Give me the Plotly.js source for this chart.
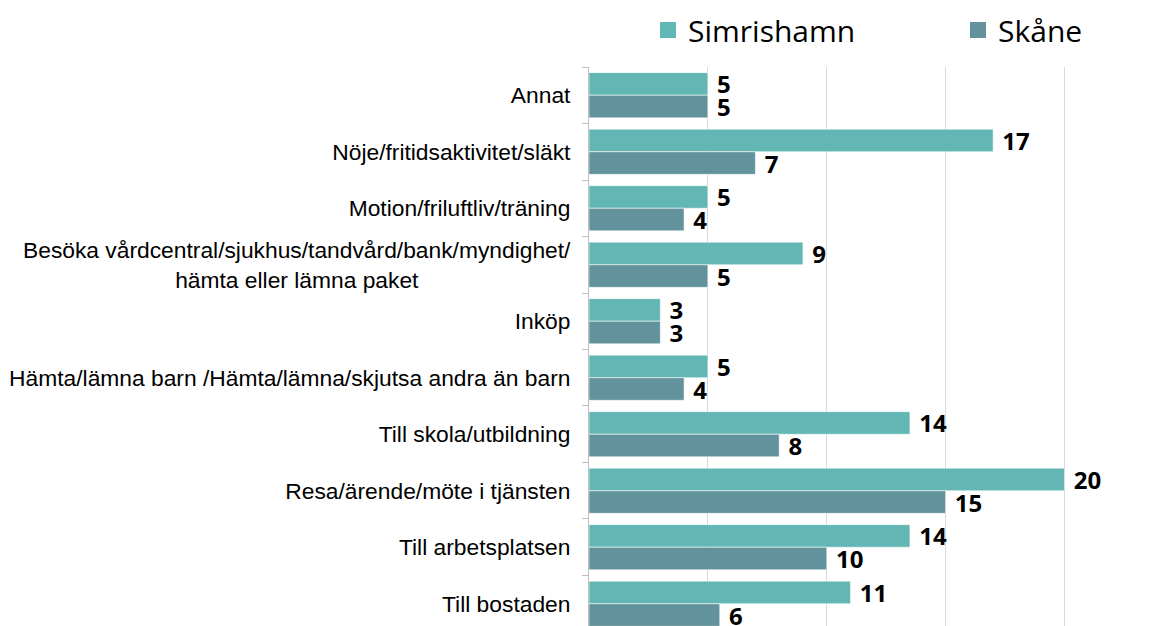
<!DOCTYPE html>
<html>
<head>
<meta charset="utf-8">
<script src="https://cdn.plot.ly/plotly-3.0.1.min.js"></script>
<style>
  html, body { margin: 0; padding: 0; background: #ffffff; overflow: hidden; }
  #chart { width: 1169px; height: 626px; }
</style>
</head>
<body>
<div id="chart"></div>
<script>
// ---- Data (top to bottom) ----
const categories = [
  "Annat",
  "Nöje/fritidsaktivitet/släkt",
  "Motion/friluftliv/träning",
  "Besöka vårdcentral/sjukhus/tandvård/bank/myndighet/<br>hämta eller lämna paket" + "\u00A0".repeat(24),
  "Inköp",
  "Hämta/lämna barn /Hämta/lämna/skjutsa andra än barn",
  "Till skola/utbildning",
  "Resa/ärende/möte i tjänsten",
  "Till arbetsplatsen",
  "Till bostaden"
];
const simrishamn = [5, 17, 5, 9, 3, 5, 13.5, 20, 13.5, 11];
const skane      = [5, 7, 4, 5, 3, 4, 8, 15, 10, 5.5];
const seriesNames = ["Simrishamn", "Skåne"];

// ---- Styles ----
const colSim = "#62B7B4";
const colSka = "#62939D";
const labelFont = { family: "Open Sans, Noto Sans, sans-serif", size: 24, color: "#000000", weight: "bold" };

function barTrace(name, vals, color) {
  return {
    type: "bar",
    orientation: "h",
    name: name,
    y: categories,
    x: vals,
    text: vals.map(v => "\u00A0" + Math.round(v)),
    textposition: "outside",
    textfont: labelFont,
    constraintext: "none",
    cliponaxis: false,
    marker: { color: color, line: { color: "rgba(255,255,255,0.55)", width: 1 } },
    showlegend: false,
    legendgroup: name,
    hoverinfo: "x+name"
  };
}
function legendTrace(name, color, legendwidth) {
  const t = {
    type: "scatter",
    mode: "markers",
    name: name,
    x: [null],
    y: [null],
    marker: { symbol: "square", size: 20, color: color },
    legendgroup: name,
    showlegend: true,
    hoverinfo: "skip"
  };
  if (legendwidth) t.legendwidth = legendwidth;
  return t;
}

const data = [
  barTrace(seriesNames[0], simrishamn, colSim),
  barTrace(seriesNames[1], skane, colSka),
  legendTrace(seriesNames[0], colSim, 265),
  legendTrace(seriesNames[1], colSka)
];

const layout = {
  width: 1169,
  height: 626,
  autosize: false,
  margin: { l: 589, r: 57, t: 67, b: 0, pad: 0, autoexpand: false },
  paper_bgcolor: "#ffffff",
  plot_bgcolor: "#ffffff",
  barmode: "group",
  bargap: 0.2,
  bargroupgap: 0,
  xaxis: {
    range: [0, 22],
    autorange: false,
    tick0: 0,
    dtick: 5,
    showgrid: true,
    gridcolor: "#D9D9D9",
    gridwidth: 1,
    zeroline: false,
    showline: false,
    showticklabels: false,
    ticks: ""
  },
  yaxis: {
    type: "category",
    categoryorder: "array",
    categoryarray: categories,
    range: [9.394, -0.5],
    autorange: false,
    showline: true,
    linecolor: "#BFBFBF",
    linewidth: 1,
    ticks: "outside",
    tickson: "boundaries",
    ticklen: 6,
    tickwidth: 1,
    tickcolor: "#BFBFBF",
    ticklabelstandoff: 13,
    showgrid: false,
    zeroline: false,
    tickfont: { family: "Liberation Sans, Arial, sans-serif", size: 22.8, color: "#000000" }
  },
  legend: {
    orientation: "h",
    x: (648 - 589) / 523,
    xanchor: "left",
    y: 1 + (67 - 30) / 559,
    yanchor: "middle",
    font: { family: "Open Sans, Noto Sans, sans-serif", size: 30, color: "#000000" },
    bgcolor: "rgba(0,0,0,0)",
    itemclick: false,
    itemdoubleclick: false
  },
  showlegend: true
};

Plotly.newPlot("chart", data, layout, { displayModeBar: false });
</script>
</body>
</html>
